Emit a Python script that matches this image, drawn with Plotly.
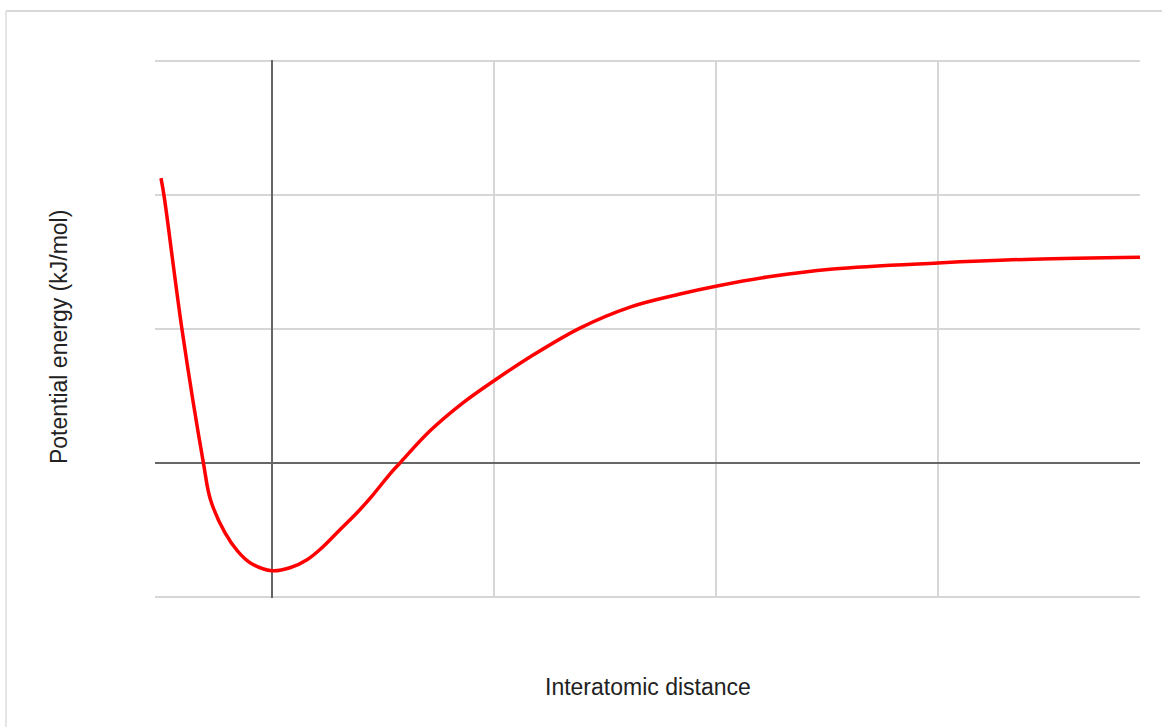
import plotly.graph_objects as go

# Potential energy curve (arbitrary units) versus interatomic distance
distance = [-0.50, -0.486, -0.405, -0.309, -0.277, -0.212, -0.153, -0.099, 0.0,
            0.081, 0.158, 0.230, 0.306, 0.383, 0.455, 0.532, 0.577, 0.712, 0.860,
            1.005, 1.162, 1.387, 1.613, 1.838, 2.005, 2.230, 2.527, 3.0, 3.428, 3.91]
energy = [2.127, 1.993, 0.993, 0.0, -0.276, -0.522, -0.664, -0.746, -0.806,
          -0.784, -0.724, -0.627, -0.50, -0.373, -0.239, -0.082, 0.0, 0.239, 0.448,
          0.619, 0.791, 1.007, 1.164, 1.261, 1.321, 1.388, 1.448, 1.493, 1.522, 1.537]

x_ticks = [0, 1, 2, 3]
y_ticks = [-1, 0, 1, 2, 3]

fig = go.Figure()
fig.add_trace(go.Scatter(
    x=distance, y=energy, mode="lines",
    line=dict(color="#ff0000", width=3.5, shape="spline", smoothing=1.0),
    hoverinfo="skip", showlegend=False,
))

axis_common = dict(
    showticklabels=False, ticks="", showline=False,
    showgrid=True, gridcolor="#d6d6d6", gridwidth=1.5,
    zeroline=True, zerolinecolor="#666666", zerolinewidth=2,
)
fig.update_xaxes(range=[-0.527, 3.91], tickvals=x_ticks, **axis_common)
fig.update_yaxes(range=[-1.01, 3.01], tickvals=y_ticks, **axis_common)

font = dict(family="Liberation Sans, Arial, sans-serif", size=23, color="#222222")
fig.update_layout(
    width=1162, height=727,
    margin=dict(l=155, r=22, t=60, b=129),
    paper_bgcolor="white", plot_bgcolor="white",
    font=font,
    annotations=[
        dict(text="Interatomic distance", xref="paper", yref="paper",
             x=0.5, y=-0.1655, xanchor="center", yanchor="middle",
             showarrow=False, font=font),
        dict(text="Potential energy (kJ/mol)", xref="paper", yref="paper",
             x=-0.0975, y=0.485, xanchor="center", yanchor="middle",
             textangle=-90, showarrow=False, font=font),
    ],
    shapes=[
        dict(type="line", xref="paper", yref="paper", x0=-0.1513, x1=1.03,
             y0=1.0911, y1=1.0911, line=dict(color="#cccccc", width=1.5)),
        dict(type="line", xref="paper", yref="paper", x0=-0.1513, x1=-0.1513,
             y0=1.0911, y1=-0.3, line=dict(color="#dddddd", width=1.5)),
    ],
)

fig.write_html("out.html")
